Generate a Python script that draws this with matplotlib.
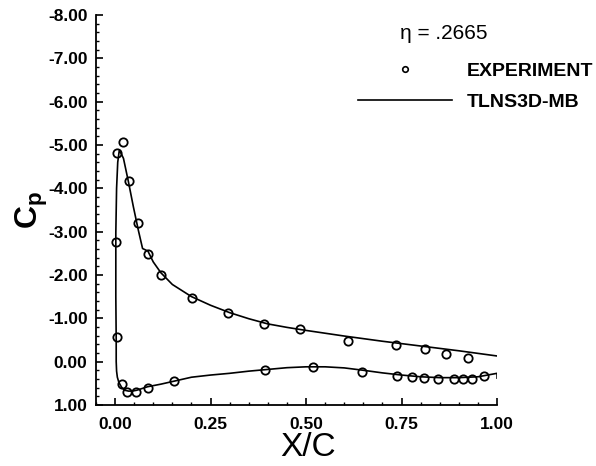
import matplotlib.pyplot as plt
from matplotlib.lines import Line2D
from matplotlib.ticker import MultipleLocator

plt.rcParams['font.family'] = ['Liberation Sans', 'DejaVu Sans']
plt.rcParams['axes.unicode_minus'] = False

# Experiment, upper surface (incl. leading edge points)
exp_upper_x = [0.004, 0.003, 0.006, 0.020, 0.037, 0.061, 0.086, 0.120, 0.201, 0.295,
               0.391, 0.484, 0.611, 0.736, 0.811, 0.866, 0.923]
exp_upper_cp = [-0.56, -2.76, -4.82, -5.06, -4.17, -3.20, -2.48, -2.01, -1.47, -1.13,
                -0.86, -0.75, -0.47, -0.39, -0.28, -0.17, -0.09]

# Experiment, lower surface
exp_lower_x = [0.017, 0.032, 0.054, 0.086, 0.153, 0.393, 0.519, 0.646, 0.739, 0.778,
               0.808, 0.846, 0.888, 0.910, 0.935, 0.966]
exp_lower_cp = [0.51, 0.71, 0.69, 0.60, 0.45, 0.20, 0.13, 0.25, 0.33, 0.36,
                0.38, 0.40, 0.41, 0.41, 0.39, 0.33]

# TLNS3D-MB, lower surface from trailing edge to leading edge
cfd_lower_x = [1.0, 1.0, 0.95, 0.9, 0.85, 0.8, 0.75, 0.7, 0.65, 0.6, 0.55, 0.5, 0.45,
               0.4, 0.35, 0.3, 0.25, 0.2, 0.15, 0.12, 0.085, 0.057, 0.045, 0.035, 0.025,
               0.017, 0.010, 0.006, 0.004, 0.003]
cfd_lower_cp = [0.38, 0.27, 0.35, 0.37, 0.37, 0.35, 0.31, 0.26, 0.20, 0.145, 0.12, 0.12,
                0.14, 0.18, 0.22, 0.27, 0.31, 0.36, 0.46, 0.52, 0.58, 0.66, 0.68, 0.68,
                0.66, 0.59, 0.48, 0.36, 0.22, 0.0]

# TLNS3D-MB, upper surface from leading edge to trailing edge
cfd_upper_x = [0.003, 0.002, 0.002, 0.004, 0.007, 0.011, 0.016, 0.022, 0.035, 0.048,
               0.061, 0.072, 0.086, 0.1, 0.12, 0.15, 0.2, 0.25, 0.3, 0.35, 0.4, 0.45,
               0.5, 0.6, 0.7, 0.8, 0.9, 1.0]
cfd_upper_cp = [-0.5, -1.5, -2.97, -4.0, -4.6, -4.87, -4.8, -4.69, -4.15, -3.57,
                -3.03, -2.61, -2.55, -2.3, -2.05, -1.78, -1.5, -1.3, -1.13, -0.99,
                -0.87, -0.79, -0.72, -0.59, -0.47, -0.36, -0.25, -0.13]

y_ticks = [-8, -7, -6, -5, -4, -3, -2, -1, 0, 1]
x_ticks = [0.0, 0.25, 0.5, 0.75, 1.0]

fig = plt.figure(figsize=(5.96, 4.66), dpi=100)
ax = fig.add_axes([0.161, 0.131, 0.673, 0.837])

ax.plot(cfd_lower_x + cfd_upper_x, cfd_lower_cp + cfd_upper_cp, color='black', lw=1.2)
ax.plot(exp_upper_x + exp_lower_x, exp_upper_cp + exp_lower_cp, 'o', ms=6,
        mfc='none', mec='black', mew=1.3)

ax.set_xlim(-0.05, 1.0)
ax.set_ylim(1.0, -8.0)

ax.spines['top'].set_visible(False)
ax.spines['right'].set_visible(False)
ax.spines['left'].set_linewidth(1.3)
ax.spines['bottom'].set_linewidth(1.3)

ax.set_xticks(x_ticks)
ax.set_xticklabels([f"{v:.2f}" for v in x_ticks])
ax.set_yticks(y_ticks)
ax.set_yticklabels([f"{v:.2f}" for v in y_ticks])
ax.xaxis.set_minor_locator(MultipleLocator(0.05))
ax.yaxis.set_minor_locator(MultipleLocator(0.2))
ax.tick_params(which='major', direction='in', length=5, width=1.2, labelsize=12.5)
ax.tick_params(axis='x', which='major', pad=9)
ax.tick_params(axis='y', which='major', pad=6)
ax.tick_params(which='minor', direction='in', length=2.5, width=1.0)
for lab in ax.get_xticklabels() + ax.get_yticklabels():
    lab.set_fontweight('bold')

ax.set_xlabel("X/C", fontsize=24)
ax.xaxis.set_label_coords(0.53, -0.07)
ax.set_ylabel("C$_\\mathregular{p}$", fontsize=23, fontweight='bold')
ax.yaxis.set_label_coords(-0.115, 0.5)

ax.text(0.866, 0.952, "η = .2665", transform=ax.transAxes, fontsize=15,
        ha='center', va='center')

handles = [Line2D([], [], ls='none', marker='o', ms=4, mfc='none', mec='black', mew=1.2),
           Line2D([], [], color='black', lw=1.2)]
ax.legend(handles, ["EXPERIMENT", "TLNS3D-MB"], loc='upper left',
          bbox_to_anchor=(358 / 596, 1 - 62 / 466), bbox_transform=fig.transFigure,
          frameon=False, handlelength=4.85, handletextpad=0.75,
          borderpad=0, borderaxespad=0, labelspacing=0.7,
          prop={'weight': 'bold', 'size': 14})

fig.savefig("out.png", dpi=100)
